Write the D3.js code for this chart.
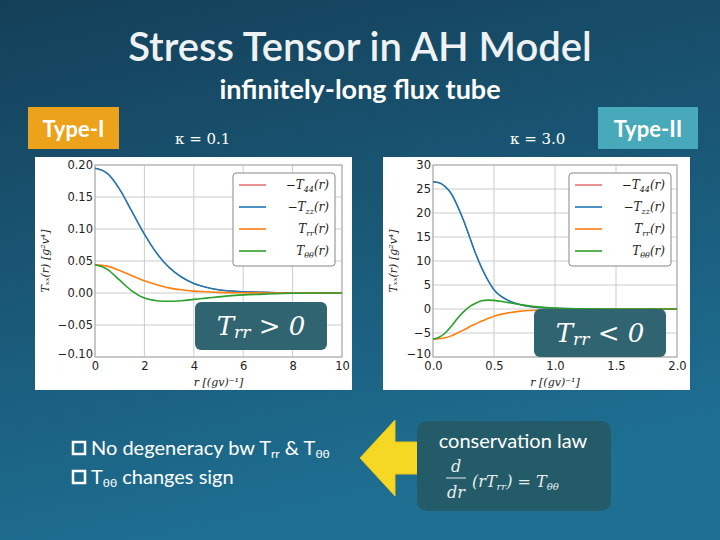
<!DOCTYPE html>
<html><head><meta charset="utf-8">
<script src="https://cdn.jsdelivr.net/npm/d3@7"></script>
<style>body{margin:0;}svg{display:block;}</style>
</head><body>
<svg id="slide" width="720" height="540"></svg>
<script>
// kappa = 0.1 (Type-I)
const rLeft = [0, 0.5, 1, 1.5, 2, 2.5, 3, 3.5, 4, 4.5, 5, 6, 7, 8, 10];
const tzzLeft = [0.195, 0.187, 0.162, 0.127, 0.092, 0.062, 0.040, 0.025, 0.015, 0.009, 0.005, 0.002, 0.001, 0.0003, 0];
const trrLeft = [0.044, 0.042, 0.035, 0.027, 0.019, 0.013, 0.008, 0.005, 0.003, 0.002, 0.001, 0.0004, 0.0001, 0, 0];
const tthLeft = [0.044, 0.037, 0.020, 0.003, -0.008, -0.012, -0.013, -0.012, -0.010, -0.008, -0.006, -0.003, -0.0015, -0.0005, 0];
// kappa = 3.0 (Type-II)
const rRight = [0, 0.05, 0.1, 0.15, 0.2, 0.25, 0.3, 0.35, 0.4, 0.45, 0.5, 0.6, 0.7, 0.8, 1.0, 1.2, 1.5, 2.0];
const tzzRight = [26.5, 26.3, 25.5, 24, 21.5, 18.5, 15, 11.5, 8.5, 6, 4, 2, 1, 0.5, 0.15, 0.05, 0, 0];
const trrRight = [-6.3, -6.2, -6, -5.6, -5, -4.4, -3.7, -3.1, -2.5, -2, -1.5, -0.9, -0.5, -0.3, -0.1, -0.03, 0, 0];
const tthRight = [-6.3, -5.9, -5, -3.6, -2, -0.6, 0.5, 1.2, 1.7, 1.85, 1.8, 1.4, 1.0, 0.6, 0.2, 0.05, 0, 0];
const legendLabels = [['−T', '44', '(r)'], ['−T', 'zz', '(r)'], ['T', 'rr', '(r)'], ['T', 'θθ', '(r)']];
const seriesColors = ['#d62728', '#1f77b4', '#ff7f0e', '#2ca02c'];

const svg = d3.select('#slide');
const defs = svg.append('defs');
const grad = defs.append('linearGradient').attr('id', 'bg').attr('x1', 0).attr('y1', 0).attr('x2', 0.3).attr('y2', 1);
grad.append('stop').attr('offset', 0).attr('stop-color', '#143f58');
grad.append('stop').attr('offset', 1).attr('stop-color', '#1e6f92');
svg.append('rect').attr('width', 720).attr('height', 540).attr('fill', 'url(#bg)');

const font = 'Lato, "Open Sans", sans-serif';
svg.append('text').attr('x', 360).attr('y', 61).attr('text-anchor', 'middle').attr('font-weight', 600)
  .attr('fill', '#eef2f4').attr('font-family', font).attr('font-size', 40).text('Stress Tensor in AH Model');
svg.append('text').attr('x', 360).attr('y', 99).attr('text-anchor', 'middle').attr('font-weight', 700)
  .attr('fill', '#ffffff').attr('font-family', font).attr('font-size', 27).text('infinitely-long flux tube');

function tag(x, w, fill, label) {
  svg.append('rect').attr('x', x).attr('y', 107).attr('width', w).attr('height', 42).attr('fill', fill);
  svg.append('text').attr('x', x + w / 2).attr('y', 137).attr('text-anchor', 'middle').attr('font-weight', 700)
    .attr('fill', '#fff').attr('font-family', font).attr('font-size', 22).text(label);
}
tag(28, 91, '#eda21c', 'Type-I');
tag(598, 100, '#48a9ba', 'Type-II');

const serif = '"DejaVu Serif", "Liberation Serif", serif';
svg.append('text').attr('x', 175).attr('y', 144).attr('fill', '#fff').attr('font-family', serif)
  .attr('font-size', 15).text('κ = 0.1');
svg.append('text').attr('x', 510).attr('y', 144).attr('fill', '#fff').attr('font-family', serif)
  .attr('font-size', 15).text('κ = 3.0');

function subText(sel, parts, big, small) {
  parts.forEach((s, k) => {
    sel.append('tspan').attr('font-size', k % 2 ? small : big).attr('dy', k % 2 ? 3 : (k ? -3 : 0)).text(s);
  });
}

function panel(cfg) {
  const g = svg.append('g');
  g.append('rect').attr('x', cfg.box[0]).attr('y', 157).attr('width', cfg.box[1]).attr('height', 233).attr('fill', '#fff');
  const x = d3.scaleLinear().domain(cfg.xDomain).range(cfg.xRange);
  const y = d3.scaleLinear().domain(cfg.yDomain).range([357, 165]);
  g.append('g').selectAll('line').data(cfg.xTicks).join('line')
    .attr('x1', d => x(d)).attr('x2', d => x(d)).attr('y1', 165).attr('y2', 357).attr('stroke', '#ccc');
  g.append('g').selectAll('line').data(cfg.yTicks).join('line')
    .attr('x1', cfg.xRange[0]).attr('x2', cfg.xRange[1]).attr('y1', d => y(d)).attr('y2', d => y(d)).attr('stroke', '#ccc');
  g.append('rect').attr('x', cfg.xRange[0]).attr('y', 165).attr('width', cfg.xRange[1] - cfg.xRange[0])
    .attr('height', 192).attr('fill', 'none').attr('stroke', '#aaa');
  const xa = g.append('g').attr('transform', 'translate(0,357)')
    .call(d3.axisBottom(x).tickValues(cfg.xTicks).tickFormat(cfg.xFmt).tickSize(0).tickPadding(5));
  const ya = g.append('g').attr('transform', `translate(${cfg.xRange[0]},0)`)
    .call(d3.axisLeft(y).tickValues(cfg.yTicks).tickFormat(cfg.yFmt).tickSize(0).tickPadding(2));
  [xa, ya].forEach(a => {
    a.select('.domain').remove();
    a.selectAll('text').attr('font-family', '"DejaVu Sans", sans-serif').attr('font-size', 11.5).attr('fill', '#222');
  });
  ya.selectAll('text').filter(d => d === cfg.yDomain[0]).attr('dy', '0');
  const line = d3.line().x(d => x(d[0])).y(d => y(d[1])).curve(d3.curveMonotoneX);
  const series = [cfg.tzz, cfg.tzz, cfg.trr, cfg.tth];
  const widths = [1, 1.6, 1.6, 1.6];
  series.forEach((s, i) => {
    g.append('path').datum(cfg.r.map((v, j) => [v, s[j]])).attr('d', line)
      .attr('fill', 'none').attr('stroke', seriesColors[i]).attr('stroke-width', widths[i]);
  });
  g.append('text').attr('x', (cfg.xRange[0] + cfg.xRange[1]) / 2).attr('y', 386).attr('text-anchor', 'middle')
    .attr('font-family', serif).attr('font-size', 11).attr('font-style', 'italic').attr('fill', '#222').text('r [(gv)⁻¹]');
  g.append('text').attr('transform', `translate(${cfg.box[0] + 14},261) rotate(-90)`).attr('text-anchor', 'middle')
    .attr('font-family', serif).attr('font-size', 11).attr('font-style', 'italic').attr('fill', '#222').text('Tₓₓ(r) [g²v⁴]');
  const [lx, ly] = cfg.legend;
  g.append('rect').attr('x', lx).attr('y', ly).attr('width', 102).attr('height', 93).attr('rx', 3)
    .attr('fill', '#fff').attr('stroke', '#888');
  legendLabels.forEach((t, i) => {
    const yy = ly + 12 + i * 22;
    g.append('line').attr('x1', lx + 6).attr('x2', lx + 33).attr('y1', yy).attr('y2', yy)
      .attr('stroke', seriesColors[i]).attr('stroke-width', i === 0 ? 1 : 1.6);
    const tx = g.append('text').attr('x', lx + 96).attr('y', yy + 4).attr('text-anchor', 'end').attr('font-family', serif)
      .attr('font-style', 'italic').attr('fill', '#222');
    subText(tx, t, 12, 8);
  });
  const [bx, by] = cfg.callout;
  g.append('rect').attr('x', bx).attr('y', by).attr('width', 132).attr('height', 48).attr('rx', 6).attr('fill', '#2f6470');
  const ct = g.append('text').attr('x', bx + 66).attr('y', by + 33).attr('text-anchor', 'middle').attr('font-family', serif)
    .attr('fill', '#fff').attr('font-style', 'italic');
  subText(ct, cfg.calloutText, 26, 17);
}

panel({box: [35, 317], xDomain: [0, 10], xRange: [95, 342], yDomain: [-0.10, 0.20],
  xTicks: [0, 2, 4, 6, 8, 10], yTicks: [-0.10, -0.05, 0, 0.05, 0.10, 0.15, 0.20],
  xFmt: d3.format('d'), yFmt: d => d3.format('.2f')(d).replace('-', '−'),
  r: rLeft, tzz: tzzLeft, trr: trrLeft, tth: tthLeft,
  legend: [233, 173], callout: [195, 302], calloutText: ['T', 'rr', ' > 0']});
panel({box: [383, 307], xDomain: [0, 2], xRange: [433, 677], yDomain: [-10, 30],
  xTicks: [0, 0.5, 1, 1.5, 2], yTicks: [-10, -5, 0, 5, 10, 15, 20, 25, 30],
  xFmt: d3.format('.1f'), yFmt: d => String(d).replace('-', '−'),
  r: rRight, tzz: tzzRight, trr: trrRight, tth: tthRight,
  legend: [569, 173], callout: [534, 309], calloutText: ['T', 'rr', ' < 0']});

const bullets = [['No degeneracy bw T', 'rr', ' & T', 'θθ'], ['T', 'θθ', ' changes sign']];
bullets.forEach((b, i) => {
  const yy = 455 + i * 29;
  svg.append('rect').attr('x', 73).attr('y', yy - 13).attr('width', 12).attr('height', 12)
    .attr('fill', 'none').attr('stroke', '#fff').attr('stroke-width', 2.5);
  const t = svg.append('text').attr('x', 91).attr('y', yy).attr('fill', '#fff').attr('font-family', font);
  subText(t, b, 20, 12);
});

svg.append('path').attr('d', 'M360,458 L395,420 L395,442 L418,442 L418,474 L395,474 L395,496 Z')
  .attr('fill', '#f5d824').attr('stroke', '#e8c51a');

svg.append('rect').attr('x', 417).attr('y', 421).attr('width', 194).attr('height', 90).attr('rx', 10).attr('fill', '#245b69');
svg.append('text').attr('x', 513).attr('y', 448).attr('text-anchor', 'middle').attr('fill', '#fff')
  .attr('font-family', font).attr('font-size', 20).text('conservation law');
const f = svg.append('g').attr('font-family', serif).attr('font-style', 'italic').attr('fill', '#e8eef0');
f.append('text').attr('x', 456).attr('y', 472).attr('text-anchor', 'middle').attr('font-size', 16).text('d');
f.append('line').attr('x1', 446).attr('x2', 466).attr('y1', 478).attr('y2', 478).attr('stroke', '#e8eef0');
f.append('text').attr('x', 456).attr('y', 498).attr('text-anchor', 'middle').attr('font-size', 16).text('dr');
const ft = f.append('text').attr('x', 472).attr('y', 487);
subText(ft, ['(rT', 'rr', ') = T', 'θθ'], 16, 10);
</script>
</body></html>
